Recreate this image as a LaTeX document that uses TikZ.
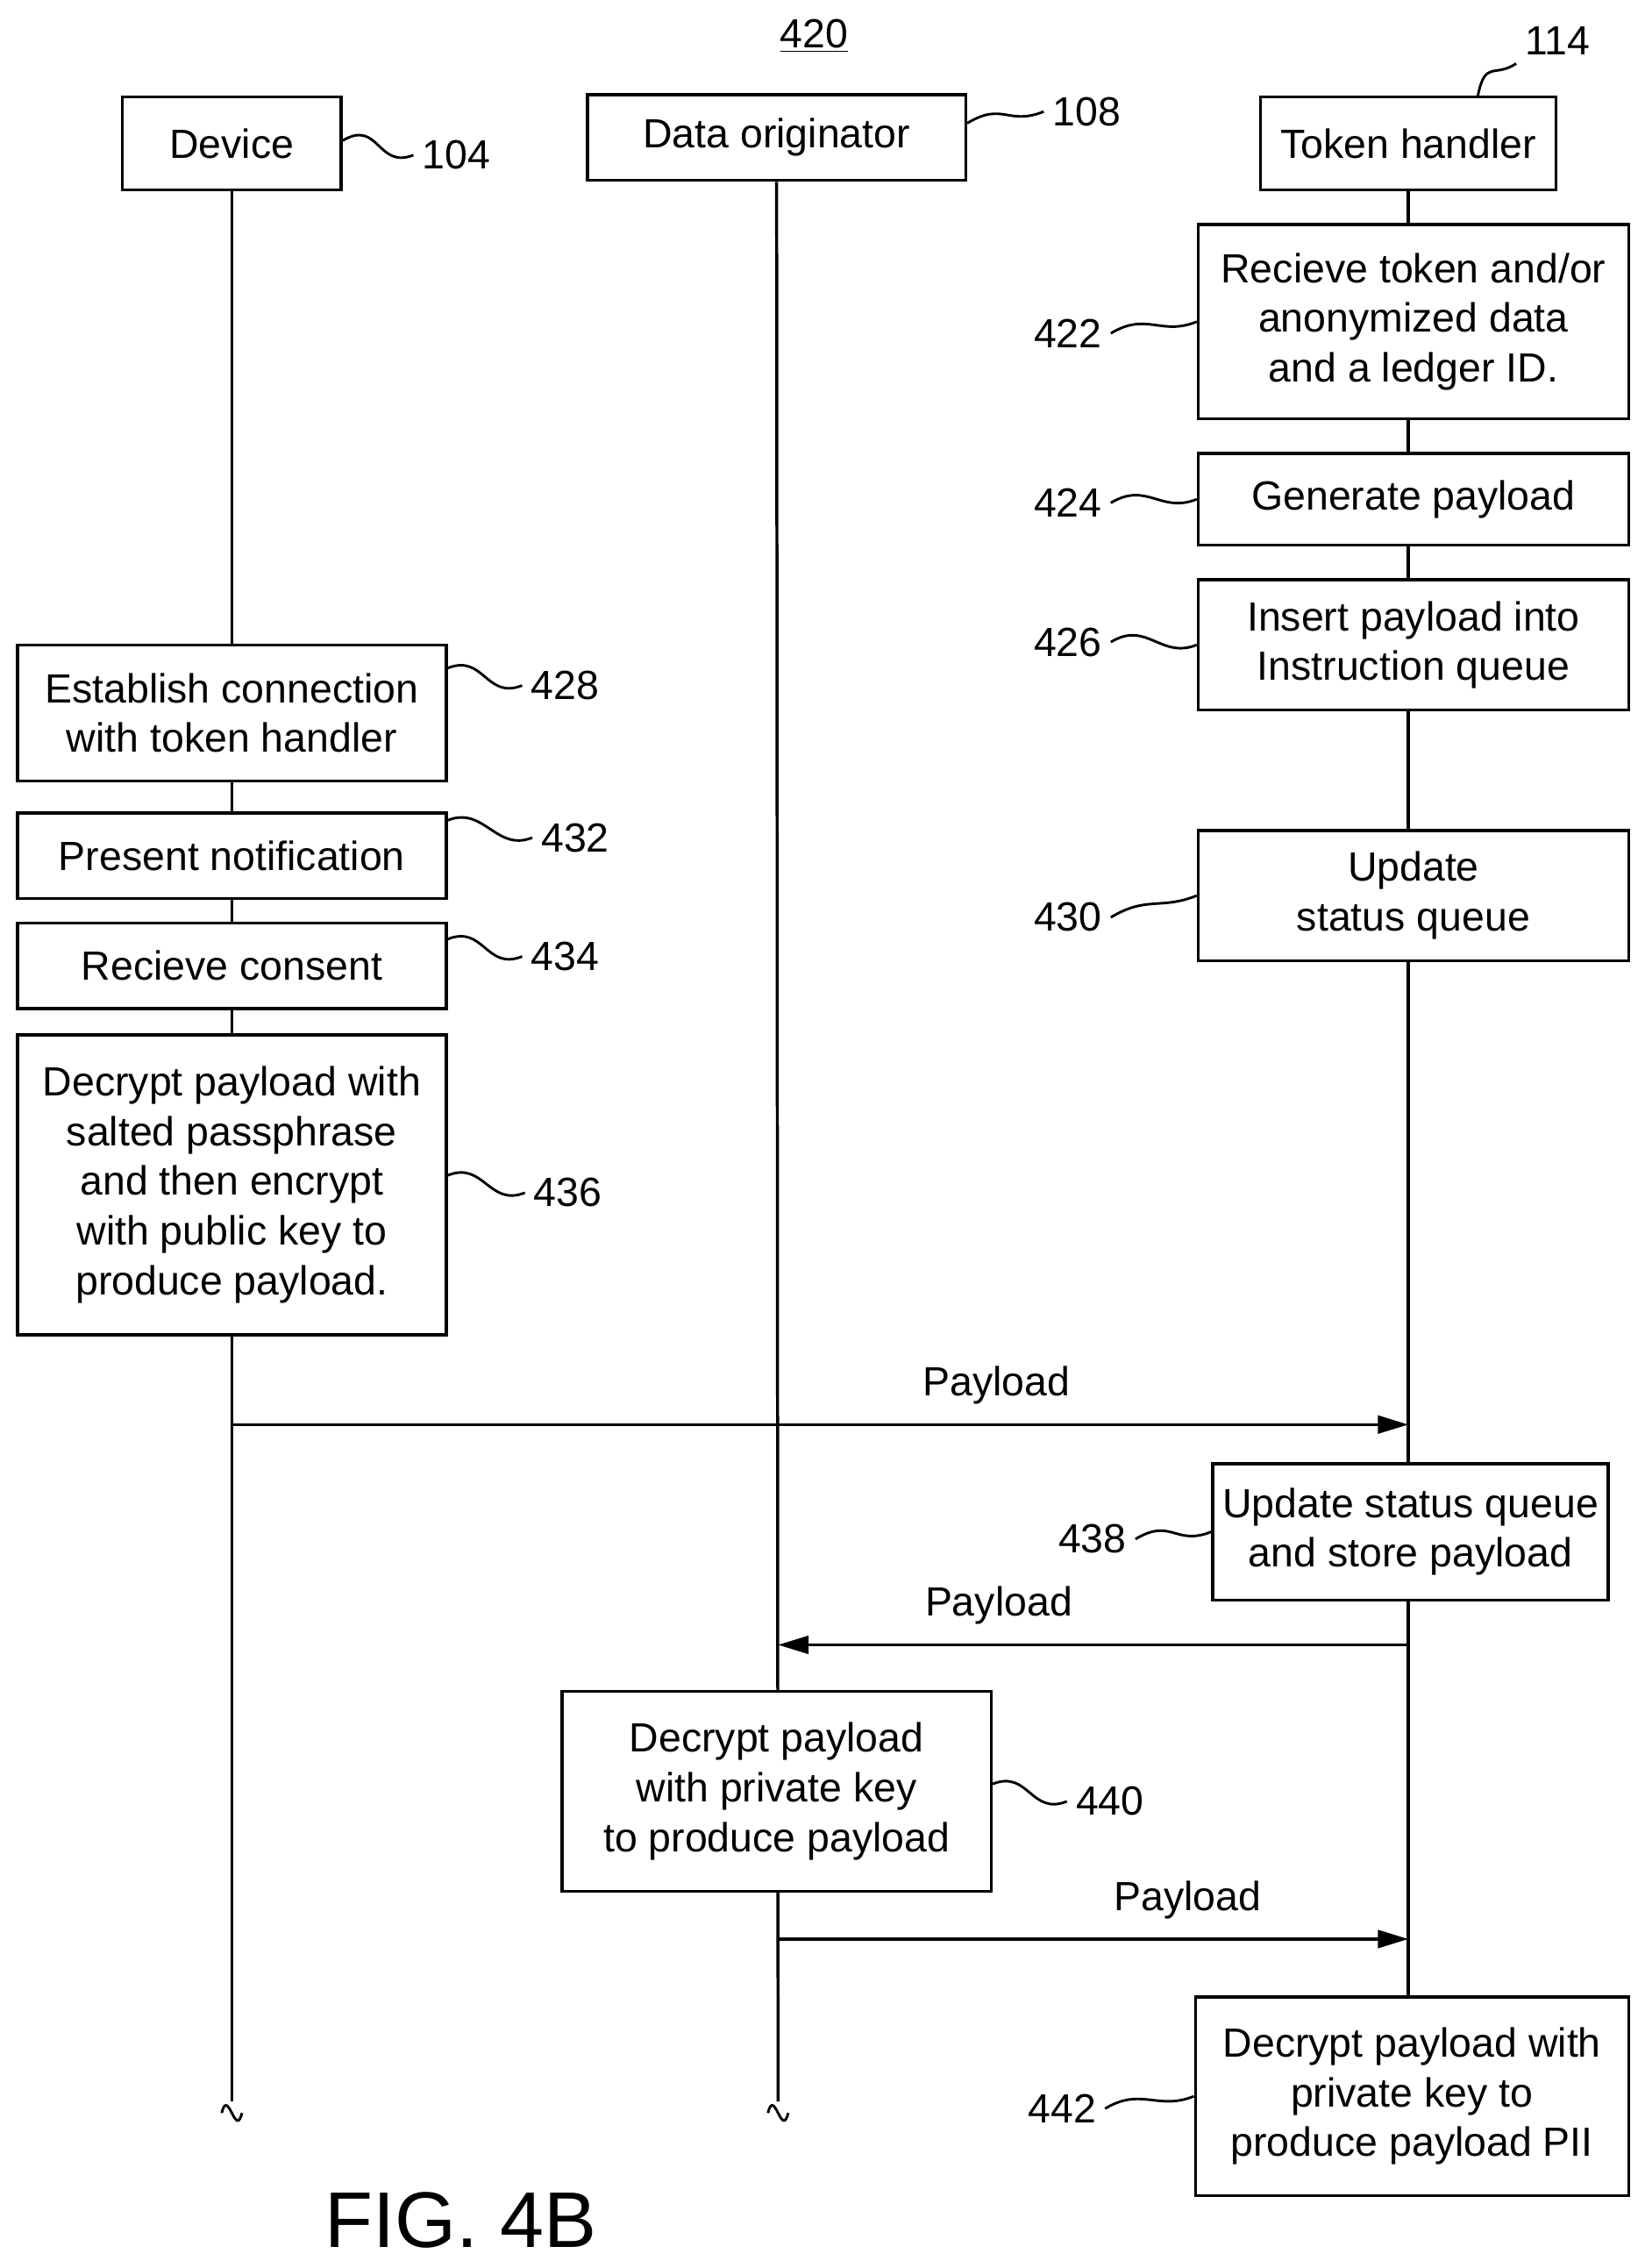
\documentclass[tikz,border=0pt]{standalone}
\usepackage{fontspec}
\setmainfont{Liberation Sans}
\usetikzlibrary{arrows.meta}
\begin{document}
\begin{tikzpicture}[x=0.02cm, y=-0.02cm,
    box/.style={draw, line width=1.2pt, align=center, inner sep=0pt, font=\fontsize{16}{19.5}\selectfont},
    lbl/.style={font=\fontsize{16}{19}\selectfont},
    life/.style={line width=1.2pt},
    lead/.style={line width=1pt},
    msg/.style={line width=1.2pt, -{Triangle[length=12pt, width=7pt]}}]
    \useasboundingbox (0,0) rectangle (1135,1565);

    % 420 heading
    \node[lbl] (fig) at (562,25) {\underline{420}};

    % participants
    \node[box] (dev) at (160,99) {\parbox[c][64\dimexpr0.02cm][c]{151\dimexpr0.02cm}{\centering Device}};
    \node[box] (orig) at (536,95) {\parbox[c][59\dimexpr0.02cm][c]{261\dimexpr0.02cm}{\centering Data originator}};
    \node[box] (tok) at (972,99) {\parbox[c][64\dimexpr0.02cm][c]{204\dimexpr0.02cm}{\centering Token handler}};
    \node[lbl] (n104) at (315,107) {104};
    \node[lbl] (n108) at (750,77) {108};
    \node[lbl] (n114) at (1075,28) {114};

    % lifelines
    \coordinate (devend) at (160,1450);
    \coordinate (origend) at (537,1450);
    \coordinate (tokend) at (972,1378);
    \draw[life] (dev.south) -- (devend);
    \draw[life] (orig.south) -- (origend);
    \draw[life] (tok.south) -- (tokend);
    \foreach \c in {devend, origend}
        \draw[lead] (\c) ++(-7,8) .. controls +(2,-8) and +(-3,-6) .. ++(7,0) .. controls +(3,6) and +(-2,8) .. ++(7,0);

    % token handler steps
    \node[box, fill=white] (s422) at (975.5,222) {\parbox[c][134\dimexpr0.02cm][c]{297\dimexpr0.02cm}{\centering Recieve token and/or\\anonymized data\\and a ledger ID.}};
    \node[box, fill=white] (s424) at (975.5,344.5) {\parbox[c][63\dimexpr0.02cm][c]{297\dimexpr0.02cm}{\centering Generate payload}};
    \node[box, fill=white] (s426) at (975.5,445) {\parbox[c][90\dimexpr0.02cm][c]{297\dimexpr0.02cm}{\centering Insert payload into\\Instruction queue}};
    \node[box, fill=white] (s430) at (975.5,618) {\parbox[c][90\dimexpr0.02cm][c]{297\dimexpr0.02cm}{\centering Update\\status queue}};
    \node[box, fill=white] (s438) at (973.5,1057) {\parbox[c][94\dimexpr0.02cm][c]{273\dimexpr0.02cm}{\centering Update status queue\\and store payload}};
    \node[box, fill=white] (s442) at (974.5,1446.5) {\parbox[c][137\dimexpr0.02cm][c]{299\dimexpr0.02cm}{\centering Decrypt payload with\\private key to\\produce payload PII}};

    % device steps
    \node[box, fill=white] (s428) at (160,492) {\parbox[c][94\dimexpr0.02cm][c]{296\dimexpr0.02cm}{\centering Establish connection\\with token handler}};
    \node[box, fill=white] (s432) at (160,590.5) {\parbox[c][59\dimexpr0.02cm][c]{296\dimexpr0.02cm}{\centering Present notification}};
    \node[box, fill=white] (s434) at (160,666.5) {\parbox[c][59\dimexpr0.02cm][c]{296\dimexpr0.02cm}{\centering Recieve consent}};
    \node[box, fill=white] (s436) at (160,817.5) {\parbox[c][207\dimexpr0.02cm][c]{296\dimexpr0.02cm}{\centering Decrypt payload with\\salted passphrase\\and then encrypt\\with public key to\\produce payload.}};

    % data originator step
    \node[box, fill=white] (s440) at (536,1236) {\parbox[c][138\dimexpr0.02cm][c]{296\dimexpr0.02cm}{\centering Decrypt payload\\with private key\\to produce payload}};

    % step labels
    \node[lbl] (n422) at (737,230) {422};
    \node[lbl] (n424) at (737,347) {424};
    \node[lbl] (n426) at (737,443) {426};
    \node[lbl] (n430) at (737,633) {430};
    \node[lbl] (n438) at (754,1062) {438};
    \node[lbl] (n442) at (733,1455) {442};
    \node[lbl] (n428) at (390,473) {428};
    \node[lbl] (n432) at (397,578) {432};
    \node[lbl] (n434) at (390,660) {434};
    \node[lbl] (n436) at (392,823) {436};
    \node[lbl] (n440) at (766,1243) {440};

    % leaders
    \draw[lead] (dev.east |- 0,97) .. controls +(25,-15) and +(-25,10) .. (n104.west);
    \draw[lead] (orig.east |- 0,85) .. controls +(25,-15) and +(-25,10) .. (n108.west);
    \draw[lead] (1020,66) .. controls +(5,-25) and +(-15,10) .. (n114.south west);
    \foreach \s in {422,424,426,430,438,442}
        \draw[lead] (n\s.east) .. controls +(25,-15) and +(-25,10) .. (s\s.west);
    \foreach \s in {428,432,434,436,440}
        \draw[lead] (s\s.east |- n\s.west) ++(0,-12) .. controls +(25,-10) and +(-25,10) .. (n\s.west);

    % messages
    \coordinate (m1a) at (160,983);  \coordinate (m1b) at (972,983);
    \coordinate (m2a) at (972,1135); \coordinate (m2b) at (537,1135);
    \coordinate (m3a) at (537,1338); \coordinate (m3b) at (972,1338);
    \draw[msg] (m1a) -- node[lbl, above=4pt, pos=0.65] (p1) {Payload} (m1b);
    \draw[msg] (m2a) -- node[lbl, above=4pt, pos=0.65] (p2) {Payload} (m2b);
    \draw[msg] (m3a) -- node[lbl, above=4pt, pos=0.65] (p3) {Payload} (m3b);

    \node[font=\fontsize{31}{36}\selectfont] (cap) at (318,1532) {FIG. 4B};
\end{tikzpicture}
\end{document}
